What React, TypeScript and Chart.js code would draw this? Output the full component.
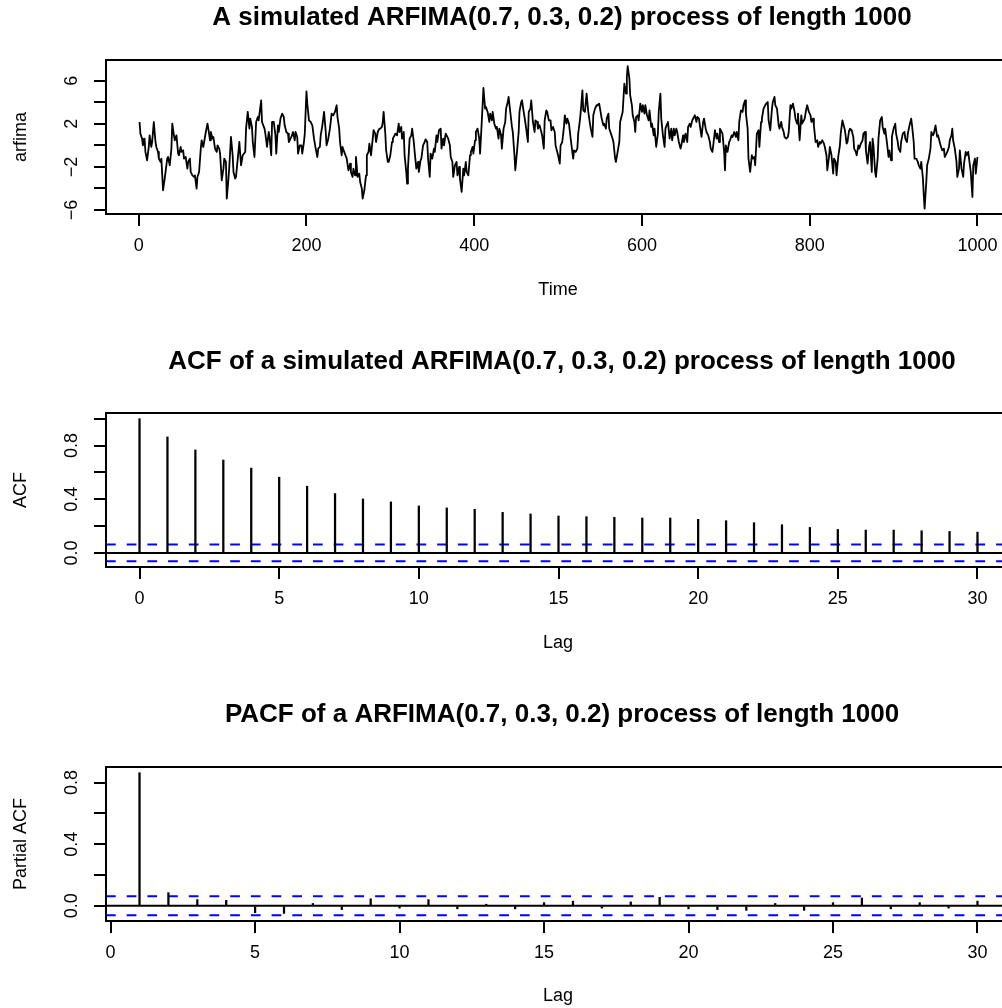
import React, { useEffect, useRef } from "react";
import { Chart, registerables } from "chart.js";

Chart.register(...registerables);

// ---------------- data ----------------
// Simulated ARFIMA series, values at the given time indices
const timeIndex: number[] = [
  1,2,4,5,7,8,10,12,13,15,16,18,20,21,23,24,26,27,29,31,32,34,35,37,39,40,42,43,45,47,48,50,51,53,54,56,58,59,61,62,64,66,67,69,70,72,74,75,77,78,80,82,83,85,86,88,89,91,93,94,96,97,99,101,102,104,105,107,108,110,112,113,115,
  116,120,122,124,127,128,130,132,133,135,136,138,140,142,143,146,147,150,151,153,155,156,158,159,161,163,164,166,167,169,171,173,174,176,178,179,181,182,184,186,187,189,190,192,194,195,197,198,200,201,203,205,207,209,211,213,214,216,217,219,221,223,224,226,228,230,232,234,236,237,239,240,242,
  243,245,248,250,252,253,255,256,258,259,261,263,264,266,267,269,271,272,274,275,277,279,280,282,283,285,287,288,290,291,292,294,295,297,298,300,302,303,305,306,308,310,311,313,314,316,317,319,320,321,323,325,326,328,329,331,333,334,336,337,339,341,342,344,345,347,348,350,352,353,355,356,358,360,361,363,364,366,368,
  369,371,372,374,375,377,379,380,382,383,385,387,388,390,391,393,395,396,398,399,401,402,404,406,407,409,410,411,413,414,416,418,419,421,422,424,426,427,429,430,432,433,435,437,438,440,441,443,445,446,448,449,451,453,454,456,457,459,460,462,464,465,467,468,470,472,473,475,476,478,480,481,483,484,486,487,489,491,492,494,
  496,497,499,500,502,503,505,507,508,510,511,513,515,516,518,519,521,523,524,526,527,529,530,532,534,536,538,539,541,542,544,546,547,549,550,552,554,555,557,558,560,561,563,565,566,568,569,571,573,574,576,577,579,581,582,583,585,586,588,589,591,592,593,595,596,598,600,601,603,604,606,608,609,611,612,614,615,617,619,620,
  622,623,625,627,628,630,631,633,635,636,638,639,641,642,644,646,647,649,650,652,654,655,657,658,660,662,663,665,666,668,669,671,673,674,676,677,679,681,682,684,685,687,689,690,692,693,695,696,698,699,700,702,704,705,707,708,710,712,713,715,716,718,720,721,723,724,726,727,729,731,732,734,735,737,739,740,742,743,745,747,
  748,750,751,753,755,756,758,759,761,763,764,766,767,769,770,772,774,775,777,778,780,782,783,785,786,788,790,791,793,794,796,797,799,801,802,804,805,807,809,810,812,813,815,817,818,820,821,823,824,826,828,829,831,832,834,836,837,839,840,842,844,845,847,848,850,852,853,855,856,858,859,861,863,864,866,867,869,871,872,874,
  875,876,878,879,881,882,884,886,887,889,890,892,894,895,897,898,900,902,903,905,906,908,909,911,913,914,916,917,919,921,922,924,925,927,929,930,932,933,935,936,937,939,940,942,944,945,947,948,950,952,953,955,956,958,960,961,963,964,966,967,969,970,971,973,975,976,978,979,981,983,984,986,987,989,991,992,994,995,997,998,1000,
];

const arfimaValues: number[] = [
  2.17,1.09,0.62,0.00,0.62,-0.61,-1.39,-0.15,0.93,-0.15,0.31,2.17,0.31,-0.15,-0.61,-1.23,-1.54,-1.23,-4.17,-3.09,-2.47,-1.23,-1.08,-1.85,-0.30,2.01,0.93,0.47,0.93,-0.77,-0.92,-0.15,-0.61,-0.46,-1.23,-1.08,-2.16,-1.54,-1.23,-2.47,-2.78,-2.93,-2.78,-4.01,-2.93,-2.47,-0.30,0.47,-0.15,0.31,1.24,2.01,1.55,0.47,1.24,0.62,0.78,-0.30,-0.61,0.00,-0.30,-0.77,-3.24,-2.16,-1.23,-1.54,-4.94,-3.09,-2.00,0.78,-0.92,-2.47,-3.09,
  -2.93,0.31,-1.85,-0.92,-0.61,1.55,3.10,1.55,2.48,1.71,0.31,-1.08,2.17,2.63,2.32,4.18,2.17,1.55,1.09,-0.15,1.24,0.78,-0.92,2.17,2.17,0.93,-0.77,1.86,1.24,2.48,2.94,2.63,1.86,1.24,1.09,0.31,0.62,0.78,1.24,0.47,1.24,0.78,-0.77,0.00,0.00,-0.77,0.31,1.09,5.01,3.87,2.32,2.17,1.86,0.62,-0.30,-1.08,-0.30,-0.15,0.93,1.86,3.10,1.24,0.00,0.62,1.55,2.94,2.79,3.10,3.72,2.63,1.55,0.31,-0.92,
  -0.15,-0.61,-1.23,-2.31,-1.70,-2.47,-2.93,-2.16,-2.78,-1.08,-2.93,-2.62,-3.40,-4.01,-4.94,-4.17,-2.78,-0.92,-0.61,0.16,-0.92,0.62,1.40,1.09,0.31,1.24,1.55,1.55,1.71,2.17,3.10,1.09,-0.46,-1.54,-1.54,-0.92,0.31,0.62,0.93,1.09,0.93,2.01,1.24,1.71,0.62,1.24,-0.92,-2.47,-3.55,-2.16,0.62,0.93,1.55,0.31,-0.61,-2.16,-1.54,-2.47,-1.39,-1.23,0.00,0.31,0.56,0.31,-1.23,-2.93,-0.77,-1.23,-0.30,-0.61,0.93,0.31,1.40,1.55,-0.30,0.62,0.00,1.09,0.78,
  0.62,0.00,-1.08,-1.54,-2.93,-1.85,-1.54,-2.78,-2.00,-3.09,-4.32,-2.16,-2.78,-1.54,-2.47,-2.78,-0.92,-0.61,-0.15,-0.77,0.47,1.24,1.55,0.62,-0.77,2.17,3.72,5.32,3.41,3.56,3.10,2.17,2.94,2.32,3.10,2.01,1.55,1.71,0.62,1.55,0.93,-0.30,1.55,2.17,3.41,4.02,4.49,3.10,1.71,1.24,-0.92,-2.31,-0.61,1.24,3.10,4.02,4.18,3.10,2.63,1.55,0.31,3.10,3.41,4.18,2.17,1.24,2.32,2.17,1.55,1.86,1.24,0.93,-0.30,2.32,3.25,3.10,2.32,2.32,1.40,1.71,
  1.24,0.00,-0.61,-0.92,-1.70,0.00,0.31,1.71,2.79,2.01,2.48,2.01,0.62,0.00,-1.23,-0.46,-0.61,-0.30,1.09,2.32,3.10,5.11,3.25,3.10,4.80,3.10,2.01,1.55,0.78,2.79,3.41,3.72,3.72,3.87,3.41,2.48,1.86,2.01,1.55,2.48,2.94,1.55,1.09,0.62,0.31,-1.23,-1.54,-0.61,0.31,2.17,2.79,3.10,5.72,4.80,6.34,7.36,6.19,4.64,3.72,2.79,2.17,1.24,2.63,2.79,2.32,3.87,3.10,3.72,2.94,3.72,2.79,2.32,3.25,1.71,2.01,0.93,1.55,-0.15,1.09,3.10,
  4.80,2.48,0.93,-0.15,1.55,2.01,2.17,0.62,1.55,0.47,1.55,0.93,1.55,1.24,0.31,-0.30,0.00,0.93,0.31,1.09,0.31,1.71,2.01,1.71,2.32,2.63,2.79,2.17,2.63,2.48,1.86,0.78,2.17,2.48,1.55,1.24,0.93,0.31,-0.30,-0.61,0.00,1.40,0.62,1.09,0.31,1.55,1.24,1.09,-0.61,-2.31,0.00,-0.61,0.31,0.47,0.93,0.78,1.24,0.78,1.24,0.47,2.17,3.25,3.10,3.72,4.18,2.94,1.55,-1.23,-2.47,-0.92,-1.23,-1.08,-1.85,1.09,1.40,-0.15,2.17,2.48,3.41,3.72,
  3.87,4.02,2.32,1.40,3.41,4.02,4.49,3.72,3.41,1.86,1.55,2.17,1.71,1.24,0.78,0.62,0.78,1.24,3.72,3.41,3.87,3.10,2.48,2.01,2.94,0.47,2.79,2.01,2.32,2.48,3.41,3.72,3.10,2.79,2.17,2.48,1.86,0.31,0.47,-0.15,0.31,0.16,0.47,0.16,-0.15,-0.92,-2.31,-1.08,-0.15,-0.92,-2.62,-1.23,-1.54,-2.78,-1.08,0.00,1.09,2.32,2.01,1.40,0.16,0.31,1.40,1.55,1.40,0.78,-0.30,-0.61,-0.92,0.00,-0.30,0.16,0.47,1.09,1.24,-0.46,-1.70,0.00,0.31,-2.47,
  0.62,0.00,-2.47,-2.93,-1.23,0.62,2.32,2.63,1.71,1.09,1.55,0.31,-1.08,-0.46,-1.39,0.78,1.55,2.01,1.09,0.31,-0.30,-0.61,0.31,1.09,1.24,0.62,0.31,1.09,1.86,2.48,1.86,0.31,-1.23,-1.23,-1.54,-1.85,-2.16,-1.54,-3.09,-4.63,-5.87,-3.40,-1.85,-1.23,-0.30,1.24,0.93,1.09,1.86,0.78,0.93,0.31,0.00,-0.46,-0.30,-1.08,-0.77,-0.61,-0.15,0.47,0.93,1.55,0.47,-0.30,-1.54,-2.93,-2.16,-0.46,-2.16,-2.93,-1.70,-0.61,-0.92,-0.61,-1.85,-2.47,-4.79,-1.85,-1.23,-2.62,-1.08,
];

const acfLags: number[] = [0,1,2,3,4,5,6,7,8,9,10,11,12,13,14,15,16,17,18,19,20,21,22,23,24,25,26,27,28,29,30];
const acfValues: number[] = [1.0,0.864,0.767,0.692,0.632,0.564,0.497,0.442,0.402,0.38,0.35,0.335,0.325,0.302,0.29,0.275,0.27,0.265,0.26,0.26,0.25,0.24,0.225,0.21,0.19,0.175,0.17,0.17,0.165,0.16,0.155];

const pacfLags: number[] = [1,2,3,4,5,6,7,8,9,10,11,12,13,14,15,16,17,18,19,20,21,22,23,24,25,26,27,28,29,30];
const pacfValues: number[] = [0.864,0.085,0.04,0.035,-0.045,-0.05,0.015,-0.025,0.045,-0.015,0.04,-0.02,0.01,-0.02,0.02,0.03,-0.015,0.025,0.055,-0.02,-0.025,-0.03,0.015,-0.03,0.02,0.05,-0.02,0.02,-0.015,0.03];

const ciBound = 0.062; // 1.96 / sqrt(1000)

const timeTicks: number[] = [0, 200, 400, 600, 800, 1000];
const arfimaYTicks: number[] = [-6, -4, -2, 0, 2, 4, 6];
const arfimaYLabelValues: number[] = [-6, -2, 2, 6];
const arfimaYLabels: string[] = ["\u22126", "\u22122", "2", "6"];
const lagTicks: number[] = [0, 5, 10, 15, 20, 25, 30];
const acfYTicks: number[] = [0, 0.2, 0.4, 0.6, 0.8, 1.0];
const pacfYTicks: number[] = [0, 0.2, 0.4, 0.6, 0.8];
const corrYLabelValues: number[] = [0, 0.4, 0.8];
const corrYLabels: string[] = ["0.0", "0.4", "0.8"];

// ---------------- layout / style ----------------
const FONT = "'Liberation Sans', Arial, Helvetica, sans-serif";
const CANVAS_W = 1040;
const PLOT_LEFT = 106;
const PLOT_RIGHT = 1011;
const TITLE_X = 562;
const XLAB_X = 558;
const YLAB_X = 21;
const YTICK_X = 72;
const TITLE_SIZE = 26;
const AXIS_SIZE = 18;

type Decor = {
  title: string;
  titleY: number;
  xTitle: string;
  xTitleY: number;
  yTitle: string;
  yLabelValues: number[];
  yLabels: string[];
};

function rotText(ctx: CanvasRenderingContext2D, text: string, x: number, y: number) {
  ctx.save();
  ctx.translate(x, y);
  ctx.rotate(-Math.PI / 2);
  ctx.fillText(text, 0, 0);
  ctx.restore();
}

function makeDecor(d: Decor) {
  return {
    id: "rDecor",
    afterDraw(chart: any) {
      const ctx: CanvasRenderingContext2D = chart.ctx;
      const a = chart.chartArea;
      const ys = chart.scales.y;
      ctx.save();
      ctx.strokeStyle = "#000";
      ctx.lineWidth = 2;
      ctx.strokeRect(a.left, a.top, a.right - a.left, a.bottom - a.top);
      ctx.fillStyle = "#000";
      ctx.textAlign = "center";
      ctx.textBaseline = "middle";
      ctx.font = `bold ${TITLE_SIZE}px ${FONT}`;
      ctx.fillText(d.title, TITLE_X, d.titleY);
      ctx.font = `${AXIS_SIZE}px ${FONT}`;
      ctx.fillText(d.xTitle, XLAB_X, d.xTitleY);
      rotText(ctx, d.yTitle, YLAB_X, (a.top + a.bottom) / 2);
      d.yLabelValues.forEach((v, i) => {
        rotText(ctx, d.yLabels[i], YTICK_X, ys.getPixelForValue(v));
      });
      ctx.restore();
    },
  };
}

type ScaleSpec = {
  xMin: number;
  xMax: number;
  xTicks: number[];
  yMin: number;
  yMax: number;
  yTicks: number[];
  xAxisHeight: number;
};

function makeScales(p: ScaleSpec) {
  const grid = {
    display: true,
    drawOnChartArea: false,
    drawTicks: true,
    tickLength: 12,
    color: "#000",
    lineWidth: 2,
    offset: false,
  };
  return {
    x: {
      type: "linear",
      min: p.xMin,
      max: p.xMax,
      offset: false,
      afterBuildTicks: (s: any) => {
        s.ticks = p.xTicks.map((v) => ({ value: v }));
      },
      afterFit: (s: any) => {
        s.height = p.xAxisHeight;
      },
      grid,
      border: { display: false },
      ticks: {
        autoSkip: false,
        maxRotation: 0,
        minRotation: 0,
        padding: 9,
        color: "#000",
        font: { family: FONT, size: AXIS_SIZE },
        callback: (v: any) => String(v),
      },
    },
    y: {
      type: "linear",
      min: p.yMin,
      max: p.yMax,
      afterBuildTicks: (s: any) => {
        s.ticks = p.yTicks.map((v) => ({ value: v }));
      },
      afterFit: (s: any) => {
        s.width = PLOT_LEFT;
      },
      grid,
      border: { display: false },
      ticks: { display: false },
    },
  };
}

function baseOptions(scales: any, padTop: number) {
  return {
    responsive: false,
    maintainAspectRatio: false,
    animation: false,
    devicePixelRatio: 1,
    layout: {
      autoPadding: false,
      padding: { left: 0, top: padTop, right: CANVAS_W - PLOT_RIGHT, bottom: 0 },
    },
    plugins: {
      legend: { display: false },
      tooltip: { enabled: false },
      title: { display: false },
    },
    scales,
  };
}

function hLine(y: number, xMin: number, xMax: number, color: string, dash: number[]) {
  return {
    type: "line",
    data: [
      { x: xMin, y },
      { x: xMax, y },
    ],
    borderColor: color,
    borderWidth: 2,
    borderDash: dash,
    pointRadius: 0,
    fill: false,
  };
}

type PanelSpec = {
  top: number;
  height: number;
  build: () => any;
};

const PANEL_H = 336;

const panels: PanelSpec[] = [
  {
    top: 0,
    height: PANEL_H,
    build: () => {
      const xMin = -39, xMax = 1040;
      const n = Math.min(timeIndex.length, arfimaValues.length);
      const pts = [];
      for (let i = 0; i < n; i++) pts.push({ x: timeIndex[i], y: arfimaValues[i] });
      return {
        type: "line",
        data: {
          datasets: [
            {
              label: "arfima",
              data: pts,
              borderColor: "#000",
              borderWidth: 1.8,
              pointRadius: 0,
              tension: 0,
              fill: false,
              borderJoinStyle: "round",
            },
          ],
        },
        options: baseOptions(
          makeScales({ xMin, xMax, xTicks: timeTicks, yMin: -6.37, yMax: 7.92, yTicks: arfimaYTicks, xAxisHeight: PANEL_H - 214 }),
          60
        ),
        plugins: [
          makeDecor({
            title: "A simulated ARFIMA(0.7, 0.3, 0.2) process of length 1000",
            titleY: 18,
            xTitle: "Time",
            xTitleY: 290,
            yTitle: "arfima",
            yLabelValues: arfimaYLabelValues,
            yLabels: arfimaYLabels,
          }),
        ],
      };
    },
  },
  {
    top: 336,
    height: PANEL_H,
    build: () => {
      const xMin = -1.2, xMax = 31.2;
      return {
        type: "bar",
        data: {
          datasets: [
            {
              type: "bar",
              label: "ACF",
              data: acfLags.map((l, i) => ({ x: l, y: acfValues[i] })),
              backgroundColor: "#000",
              borderWidth: 0,
              barThickness: 1.6,
            },
            hLine(0, xMin, xMax, "#000", []),
            hLine(ciBound, xMin, xMax, "#0000FF", [9.7, 11]),
            hLine(-ciBound, xMin, xMax, "#0000FF", [9.7, 11]),
          ],
        },
        options: baseOptions(
          makeScales({ xMin, xMax, xTicks: lagTicks, yMin: -0.105, yMax: 1.0425, yTicks: acfYTicks, xAxisHeight: 672 - 567 }),
          413 - 336
        ),
        plugins: [
          makeDecor({
            title: "ACF of a simulated ARFIMA(0.7, 0.3, 0.2) process of length 1000",
            titleY: 362 - 336,
            xTitle: "Lag",
            xTitleY: 643 - 336,
            yTitle: "ACF",
            yLabelValues: corrYLabelValues,
            yLabels: corrYLabels,
          }),
        ],
      };
    },
  },
  {
    top: 672,
    height: PANEL_H,
    build: () => {
      const xMin = -0.16, xMax = 31.16;
      return {
        type: "bar",
        data: {
          datasets: [
            {
              type: "bar",
              label: "Partial ACF",
              data: pacfLags.map((l, i) => ({ x: l, y: pacfValues[i] })),
              backgroundColor: "#000",
              borderWidth: 0,
              barThickness: 1.6,
            },
            hLine(0, xMin, xMax, "#000", []),
            hLine(ciBound, xMin, xMax, "#0000FF", [9.7, 11]),
            hLine(-ciBound, xMin, xMax, "#0000FF", [9.7, 11]),
          ],
        },
        options: baseOptions(
          makeScales({ xMin, xMax, xTicks: lagTicks, yMin: -0.099, yMax: 0.901, yTicks: pacfYTicks, xAxisHeight: 1008 - 921 }),
          767 - 672
        ),
        plugins: [
          makeDecor({
            title: "PACF of a ARFIMA(0.7, 0.3, 0.2) process of length 1000",
            titleY: 715 - 672,
            xTitle: "Lag",
            xTitleY: 996 - 672,
            yTitle: "Partial ACF",
            yLabelValues: corrYLabelValues,
            yLabels: corrYLabels,
          }),
        ],
      };
    },
  },
];

function ChartPanel({ spec }: { spec: PanelSpec }) {
  const ref = useRef<HTMLCanvasElement | null>(null);
  useEffect(() => {
    if (!ref.current) return;
    const chart = new Chart(ref.current, spec.build());
    return () => chart.destroy();
  }, [spec]);
  return (
    <canvas
      ref={ref}
      width={CANVAS_W}
      height={spec.height}
      style={{ position: "absolute", left: 0, top: spec.top, width: CANVAS_W, height: spec.height, display: "block" }}
    />
  );
}

export default function App() {
  return (
    <div
      style={{
        position: "absolute",
        left: 0,
        top: 0,
        width: 1002,
        height: 1008,
        overflow: "hidden",
        background: "#fff",
      }}
    >
      {panels.map((p, i) => (
        <ChartPanel key={i} spec={p} />
      ))}
    </div>
  );
}
